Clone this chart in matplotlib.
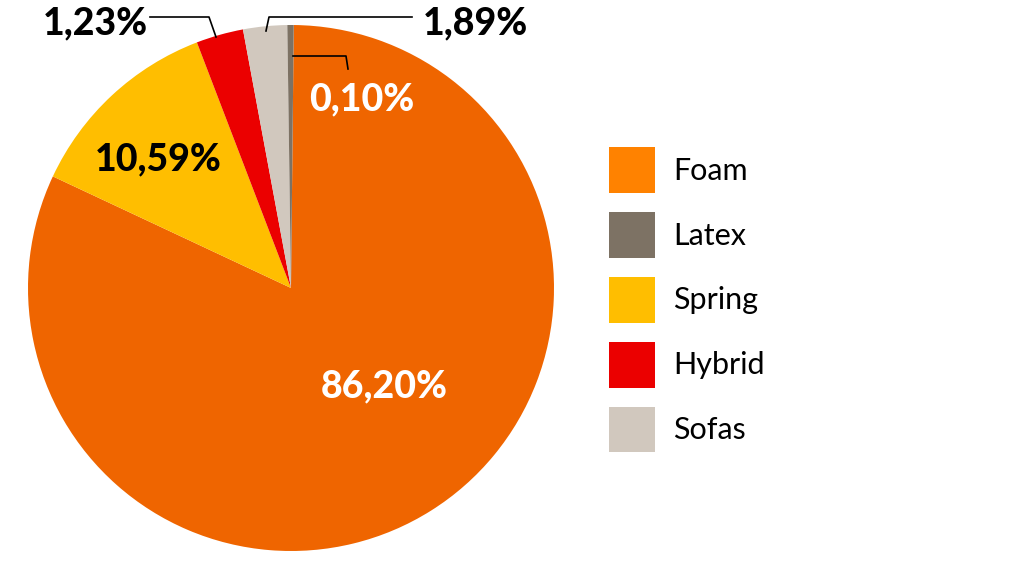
import matplotlib
matplotlib.use('Agg')
import matplotlib.pyplot as plt
from matplotlib.patches import Patch

plt.rcParams['font.family'] = ['Lato', 'DejaVu Sans']

# data
categories = ['Foam', 'Latex', 'Spring', 'Hybrid', 'Sofas']
shares = [81.8, 0.39, 12.2, 2.9, 2.7]          # slice sizes as drawn
share_labels = ['86,20%', '0,10%', '10,59%', '1,23%', '1,89%']
pie_order = ['Foam', 'Spring', 'Hybrid', 'Sofas', 'Latex']  # clockwise from top

pie_colors = {'Foam': '#EF6500', 'Latex': '#7D7264', 'Spring': '#FFBE00',
              'Hybrid': '#EB0000', 'Sofas': '#D1C8BE'}
legend_colors = {'Foam': '#FF8200', 'Latex': '#7D7264', 'Spring': '#FFBE00',
                 'Hybrid': '#EB0000', 'Sofas': '#D1C8BE'}

H = 576  # work in pixel coordinates, y measured from the top
label_pos = {'Foam': (384, 397, 'white'), 'Latex': (362, 110, 'white'),
             'Spring': (158, 170, 'black'), 'Hybrid': (95, 34, 'black'),
             'Sofas': (475, 34, 'black')}
leaders = {'Hybrid': [(150, 17), (209, 17), (216, 37)],
           'Sofas': [(266, 31), (269, 17), (412, 17)],
           'Latex': [(293, 56), (346, 56), (348, 69)]}

fig = plt.figure(figsize=(10.24, 5.76), dpi=100)
ax = fig.add_axes([0, 0, 1, 1])

vals = [shares[categories.index(c)] for c in pie_order]
ax.pie(vals, colors=[pie_colors[c] for c in pie_order], startangle=89.4,
       counterclock=False, center=(291, H - 288), radius=263,
       wedgeprops=dict(linewidth=0))
ax.set_xlim(0, 1024)
ax.set_ylim(0, H)
ax.set_aspect('auto')
ax.axis('off')

for c, lab in zip(categories, share_labels):
    x, y, col = label_pos[c]
    ax.text(x, H - y, lab, color=col, fontsize=27, fontweight='black',
            ha='center', va='baseline')

for c, pts in leaders.items():
    ax.plot([p[0] for p in pts], [H - p[1] for p in pts], color='black', lw=1.2)

handles = [Patch(facecolor=legend_colors[c], edgecolor='none') for c in categories]
ax.legend(handles, categories, loc='upper left',
          bbox_to_anchor=(609 / 1024, 1 - 147 / H), frameon=False,
          fontsize=22, handlelength=1.52, handleheight=1.936,
          handletextpad=0.59, labelspacing=0.62, borderpad=0, borderaxespad=0)

fig.savefig('out.png', dpi=100)
